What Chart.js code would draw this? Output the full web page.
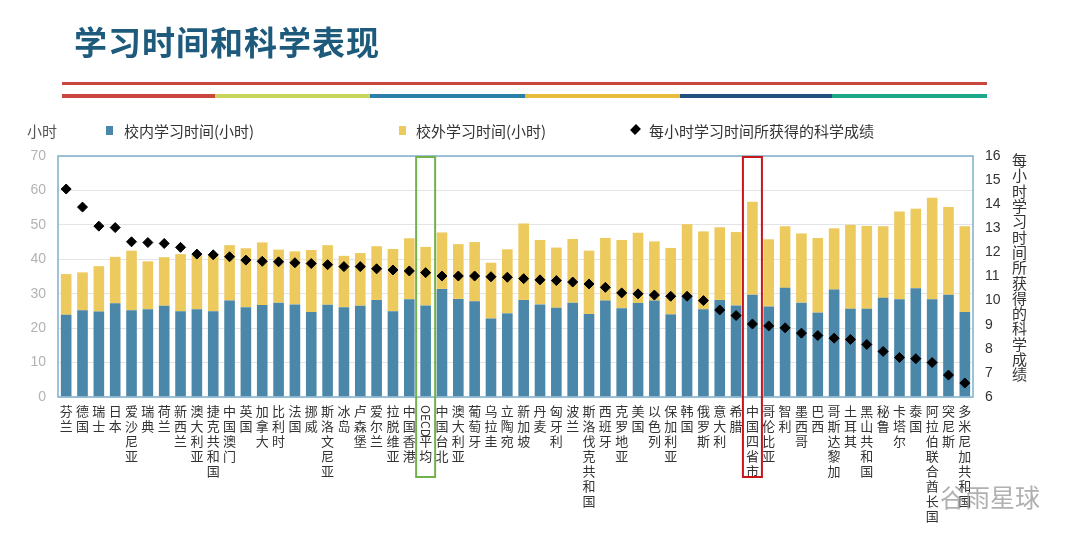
<!DOCTYPE html>
<html><head><meta charset="utf-8">
<script src="https://cdn.jsdelivr.net/npm/chart.js@4/dist/chart.umd.min.js"></script>
<style>
html,body{margin:0;padding:0;background:#fff;width:1080px;height:543px;overflow:hidden;font-family:"Noto Sans CJK SC","Noto Sans",sans-serif;}
#wrap{position:relative;width:1080px;height:543px;}
#c{position:absolute;left:0;top:0;}
.abs{position:absolute;white-space:nowrap;}
#title{left:74px;top:17px;font-size:33px;font-weight:bold;color:#1d5a7c;letter-spacing:1px;}
.line{position:absolute;height:4px;}
.leg{top:120px;font-size:15px;color:#333;}
.sq{position:absolute;width:7px;height:9px;}
#ytitle{left:1011px;top:153px;font-size:15px;color:#333;writing-mode:vertical-rl;text-orientation:upright;line-height:16px;letter-spacing:0.3px;}
#wm{left:940px;top:478px;font-size:25px;color:rgba(150,150,150,0.75);}
</style></head>
<body><div id="wrap">
<canvas id="c" width="1080" height="543"></canvas>
<div id="title" class="abs">学习时间和科学表现</div>
<div class="line" style="left:62px;top:82px;width:925px;height:3px;background:#c9473e;"></div>
<div class="line" style="left:62px;top:94px;width:153px;background:#c9473e;"></div>
<div class="line" style="left:215px;top:94px;width:155px;background:#c8d75c;"></div>
<div class="line" style="left:370px;top:94px;width:155px;background:#2b80aa;"></div>
<div class="line" style="left:525px;top:94px;width:155px;background:#e8bb3c;"></div>
<div class="line" style="left:680px;top:94px;width:152px;background:#1f5280;"></div>
<div class="line" style="left:832px;top:94px;width:155px;background:#1ea98b;"></div>
<div class="abs leg" style="left:27px;color:#555;">小时</div>
<div class="sq" style="left:106px;top:126px;background:#4a87a8;"></div>
<div class="abs leg" style="left:124px;">校内学习时间(小时)</div>
<div class="sq" style="left:399px;top:126px;background:#ecca5e;"></div>
<div class="abs leg" style="left:416px;">校外学习时间(小时)</div>
<div class="abs" style="left:632px;top:126px;width:7px;height:7px;background:#000;transform:rotate(45deg) scaleY(1.2);"></div>
<div class="abs leg" style="left:649px;">每小时学习时间所获得的科学成绩</div>
<div id="ytitle" class="abs">每小时学习时间所获得的科学成绩</div>
<div id="wm" class="abs">谷雨星球</div>
</div>
<script>
const categories = ["芬兰","德国","瑞士","日本","爱沙尼亚","瑞典","荷兰","新西兰","澳大利亚","捷克共和国","中国澳门","英国","加拿大","比利时","法国","挪威","斯洛文尼亚","冰岛","卢森堡","爱尔兰","拉脱维亚","中国香港","OECD平均","中国台北","澳大利亚","葡萄牙","乌拉圭","立陶宛","新加坡","丹麦","匈牙利","波兰","斯洛伐克共和国","西班牙","克罗地亚","美国","以色列","保加利亚","韩国","俄罗斯","意大利","希腊","中国四省市","哥伦比亚","智利","墨西哥","巴西","哥斯达黎加","土耳其","黑山共和国","秘鲁","卡塔尔","泰国","阿拉伯联合酋长国","突尼斯","多米尼加共和国"];
const inSchoolHours = [23.9,25.2,24.8,27.2,25.2,25.5,26.5,24.9,25.5,24.9,28.0,26.1,26.7,27.4,26.9,24.7,26.8,26.1,26.5,28.2,24.9,28.4,26.6,31.4,28.5,27.8,22.8,24.3,28.2,26.9,25.9,27.4,24.1,28.0,25.8,27.3,28.0,24.0,29.7,25.5,28.2,26.6,29.7,26.3,31.7,27.4,24.5,31.2,25.6,25.6,28.8,28.4,31.6,28.4,29.7,24.7];
const outSchoolHours = [11.8,11.0,13.2,13.5,17.3,13.9,14.1,16.6,15.8,16.4,16.1,17.1,18.2,15.4,15.4,18.0,17.3,14.9,15.3,15.6,18.1,17.7,17.0,16.4,15.9,17.2,16.2,18.6,22.2,18.7,17.5,18.5,18.4,18.2,19.8,20.4,17.2,19.3,20.5,22.6,21.1,21.3,27.0,19.5,17.9,20.1,21.7,17.8,24.4,24.1,20.8,25.5,23.1,29.5,25.5,24.9];
const scorePerHour = [14.63,13.88,13.09,13.03,12.44,12.41,12.37,12.21,11.93,11.90,11.82,11.68,11.63,11.61,11.57,11.54,11.49,11.41,11.41,11.32,11.27,11.23,11.16,11.02,11.02,11.02,10.99,10.97,10.91,10.86,10.83,10.77,10.69,10.55,10.32,10.28,10.23,10.18,10.18,10.00,9.61,9.38,9.03,8.95,8.87,8.65,8.55,8.44,8.39,8.18,7.89,7.64,7.59,7.43,6.91,6.58];
const leftTicks = [0,10,20,30,40,50,60,70];
const rightTicks = [6,7,8,9,10,11,12,13,14,15,16];
const highlights = [{label:"OECD平均", color:"#72b24a"}, {label:"中国四省市", color:"#c8151b"}];
const latinPrefix = /^[A-Za-z]+/;

function tickLines(label){
  const m = label.match(latinPrefix);
  if (m) return ['', ''].concat(Array.from(label.slice(m[0].length)));
  return Array.from(label);
}

const frame = {
  id:'frame',
  afterDatasetsDraw(chart){
    const {ctx, chartArea:a, scales} = chart;
    ctx.save();
    ctx.strokeStyle = '#7fb0cb'; ctx.lineWidth = 1.5;
    ctx.strokeRect(a.left, a.top, a.right-a.left, a.bottom-a.top);
    highlights.forEach(h=>{
      const i = categories.indexOf(h.label);
      const x = scales.x.getPixelForValue(i);
      ctx.strokeStyle = h.color; ctx.lineWidth = 2;
      ctx.strokeRect(x-9.5, a.top+1, 19, 476 - a.top);
    });
    // rotated Latin prefix of tick labels (e.g. "OECD")
    categories.forEach((c,i)=>{
      const m = c.match(latinPrefix);
      if (!m) return;
      const x = scales.x.getPixelForValue(i);
      ctx.save();
      ctx.translate(x, a.bottom + 8);
      ctx.rotate(Math.PI/2);
      ctx.fillStyle = '#333';
      ctx.font = '12px "Noto Sans CJK SC"';
      ctx.textAlign = 'left'; ctx.textBaseline = 'middle';
      ctx.fillText(m[0], 0, 0);
      ctx.restore();
    });
    ctx.restore();
  }
};

new Chart(document.getElementById('c'), {
  data:{
    labels: categories,
    datasets:[
      {type:'line', label:'每小时学习时间所获得的科学成绩', data:scorePerHour, yAxisID:'y1', showLine:false,
       pointStyle:'rectRot', pointRadius:5, pointBackgroundColor:'#000', pointBorderColor:'#000', order:0},
      {type:'bar', label:'校内学习时间(小时)', data:inSchoolHours, backgroundColor:'#4a87a8', yAxisID:'y', stack:'s', order:1,
       barPercentage:0.65, categoryPercentage:1},
      {type:'bar', label:'校外学习时间(小时)', data:outSchoolHours, backgroundColor:'#ecca5e', yAxisID:'y', stack:'s', order:1,
       barPercentage:0.65, categoryPercentage:1}
    ]
  },
  options:{
    responsive:false, animation:false, devicePixelRatio:1,
    layout:{padding:{top:156,left:0,right:0,bottom:0}},
    plugins:{legend:{display:false}, tooltip:{enabled:false}},
    scales:{
      x:{stacked:true, grid:{display:false, drawTicks:false}, border:{display:false},
         ticks:{autoSkip:false, maxRotation:0, minRotation:0, padding:7, color:'#333',
                callback(v){ return tickLines(this.getLabelForValue(v)); },
                font:{family:'"Noto Sans CJK SC"', size:13, lineHeight:15/13}},
         afterFit(s){ s.height = 146; }},
      y:{stacked:true, position:'left', min:0, max:70,
         afterBuildTicks(s){ s.ticks = leftTicks.map(v=>({value:v})); },
         grid:{color:'#e4e4e4', lineWidth:1, drawTicks:false}, border:{display:false},
         ticks:{color:'#b3b3b3', padding:12, font:{family:'"Liberation Sans", Arial', size:14}},
         afterFit(s){ s.width = 58; }},
      y1:{position:'right', min:6, max:16,
         afterBuildTicks(s){ s.ticks = rightTicks.map(v=>({value:v})); },
         grid:{display:false, drawTicks:false}, border:{display:false},
         ticks:{color:'#333', padding:12, font:{family:'"Liberation Sans", Arial', size:14}},
         afterFit(s){ s.width = 107; }}
    }
  },
  plugins:[frame]
});
</script>
</body></html>
